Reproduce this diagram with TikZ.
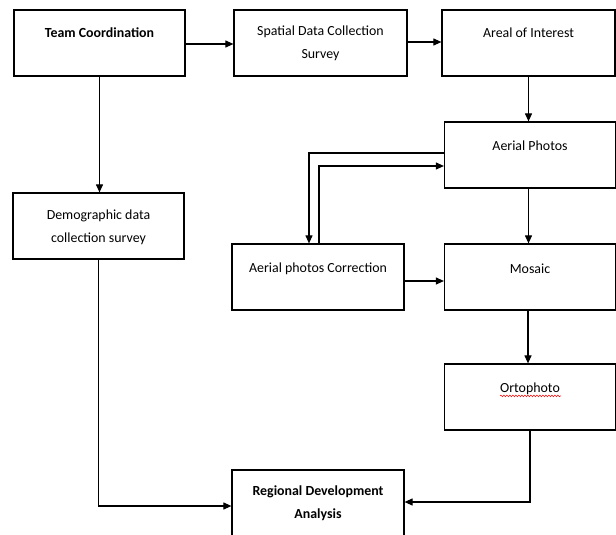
\documentclass[tikz,border=0pt]{standalone}
\usepackage{fontspec}
\setmainfont{Carlito}
\usetikzlibrary{arrows.meta,decorations.pathmorphing}
\begin{document}
\begin{tikzpicture}[x=1pt,y=-1pt,
  box/.style={draw, line width=1.2pt, minimum width=#1, minimum height=66pt, inner sep=0pt},
  box/.default=171pt,
  txt/.style={align=center, inner sep=0pt, font=\fontsize{13.9}{23}\selectfont},
  btxt/.style={txt, font=\fontsize{13.9}{23}\selectfont\bfseries},
  arr/.style={line width=1.1pt, -{Triangle[length=8pt,width=7pt]}}]
\useasboundingbox (0,0) rectangle (616,535);
\clip (0,0) rectangle (616,535);
% boxes
\node[box] (tc) at (99.5,43) {};
\node[box=173pt] (sd) at (320.5,43) {};
\node[box=173pt] (ai) at (528.5,43) {};
\node[box] (ap) at (530,155) {};
\node[box] (dd) at (98.5,226) {};
\node[box=172pt] (ac) at (318,277) {};
\node[box] (mo) at (530,277) {};
\node[box] (or) at (530,397) {};
\node[box=172pt] (rd) at (318,503) {};
% texts
\node[btxt] (tct) at ([yshift=-23pt]tc.north) {Team Coordination};
\node[txt] (sdt) at ([yshift=-33.5pt]sd.north) {Spatial Data Collection\\Survey};
\node[txt] (ait) at ([yshift=-23pt]ai.north) {Areal of Interest};
\node[txt] (apt) at ([yshift=-24pt]ap.north) {Aerial Photos};
\node[txt] (ddt) at ([yshift=-34.5pt]dd.north) {Demographic data\\collection survey};
\node[txt] (act) at ([yshift=-25pt]ac.north) {Aerial photos Correction};
\node[txt] (mot) at ([yshift=-25pt]mo.north) {Mosaic};
\node[txt] (ort) at ([yshift=-25pt]or.north) {Ortophoto};
\node[btxt] (rdt) at ([yshift=-34pt]rd.north) {Regional Development\\Analysis};
\draw[red, line width=0.5pt, decorate, decoration={snake, amplitude=0.8pt, segment length=3pt}]
  ([xshift=-30pt,yshift=-7.5pt]ort.center) -- ([xshift=31pt,yshift=-7.5pt]ort.center);
% connectors
\draw[arr] ([yshift=-1pt]tc.east) -- ([yshift=-1pt]sd.west);
\draw[arr] ([yshift=1pt]sd.east) -- ([yshift=1pt]ai.west);
\draw[arr] (ai.south) -- (ai.south |- ap.north);
\draw[arr] (tc.south) -- (tc.south |- dd.north);
\draw[arr] ([xshift=-1.5pt]ap.south) -- ([xshift=-1.5pt]mo.north);
\draw[arr] ([yshift=2pt]ap.west) -| ([xshift=-9pt]ac.north);
\draw[arr] ([xshift=1pt]ac.north) |- ([yshift=-11pt]ap.west);
\draw[arr] ([yshift=-4pt]ac.east) -- ([yshift=-4pt]mo.west);
\draw[arr] ([xshift=-2pt]mo.south) -- ([xshift=-2pt]or.north);
\draw[arr] (or.south) |- ([yshift=1pt]rd.east);
\draw[arr] (dd.south) |- ([yshift=-3pt]rd.west);
\end{tikzpicture}
\end{document}
